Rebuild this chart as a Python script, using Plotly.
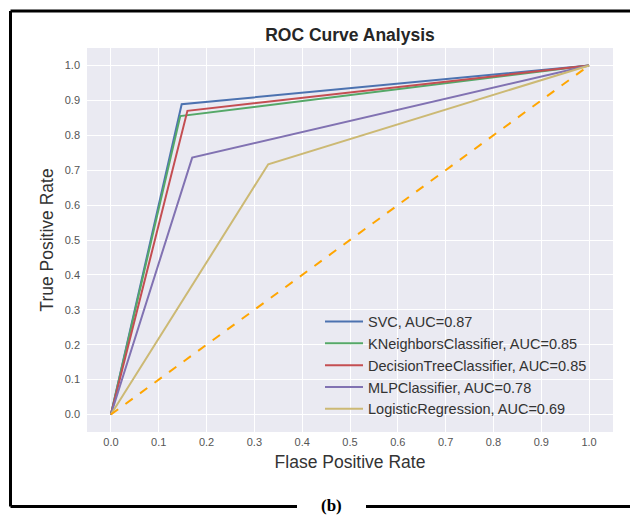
import plotly.graph_objects as go

# ---- data ----
models = ["SVC", "KNeighborsClassifier", "DecisionTreeClassifier", "MLPClassifier", "LogisticRegression"]
auc = [0.87, 0.85, 0.85, 0.78, 0.69]
fpr = [
    [0.0, 0.148, 1.0],
    [0.0, 0.145, 1.0],
    [0.0, 0.160, 1.0],
    [0.0, 0.170, 1.0],
    [0.0, 0.329, 1.0],
]
tpr = [
    [0.0, 0.889, 1.0],
    [0.0, 0.855, 1.0],
    [0.0, 0.870, 1.0],
    [0.0, 0.736, 1.0],
    [0.0, 0.717, 1.0],
]
diag = [0.0, 1.0]
tick_vals = [i / 10 for i in range(11)]
tick_text = ["%.1f" % v for v in tick_vals]

colors = ["#4C72B0", "#55A868", "#C44E52", "#8172B2", "#CCB974"]

OFF = 8  # browser default body margin
W, H = 638 - OFF, 515 - OFF
L, R, T, B = 87 - OFF, 25, 48 - OFF, 83
PW, PH = W - L - R, H - T - B

def px(x):
    return (x - OFF - L) / PW

def py(y):
    return (H - B - (y - OFF)) / PH

fig = go.Figure()
for i, m in enumerate(models):
    fig.add_trace(go.Scatter(
        x=fpr[i], y=tpr[i], mode="lines",
        name="%s, AUC=%.2f" % (m, auc[i]),
        line=dict(color=colors[i], width=2),
    ))
fig.add_trace(go.Scatter(
    x=diag, y=diag, mode="lines", showlegend=False,
    line=dict(color="#FFA500", width=2, dash="dash"),
))

axis_common = dict(
    range=[-0.05, 1.05], tickvals=tick_vals, ticktext=tick_text,
    showgrid=True, gridcolor="white", gridwidth=1.3, zeroline=False,
    showline=False, ticks="", tickfont=dict(family="Liberation Sans, Arial", size=11, color="#555555"),
)

fig.update_layout(
    width=W, height=H,
    margin=dict(l=L, r=R, t=T, b=B),
    paper_bgcolor="white", plot_bgcolor="#EAEAF2",
    font=dict(family="Liberation Sans, Arial", color="#333333"),
    title=dict(text="<b>ROC Curve Analysis</b>", x=(350 - OFF) / W, xanchor="center",
               y=1 - (35 - OFF) / H, yanchor="middle", font=dict(size=17.5, color="#262626")),
    xaxis=dict(**axis_common, title=dict(text="Flase Positive Rate", font=dict(size=17.5, color="#333333"), standoff=8),
               ticklabelstandoff=2),
    yaxis=dict(**axis_common, title=dict(text="True Positive Rate", font=dict(size=17.5, color="#333333"), standoff=6),
               ticklabelstandoff=6),
    legend=dict(x=px(320), y=py(425.5), xanchor="left", yanchor="bottom",
                bgcolor="rgba(0,0,0,0)", font=dict(size=14.5, color="#333333"),
                tracegroupgap=0, itemwidth=38),
    showlegend=True,
)

# frame
lw = 3
shapes = [
    dict(type="line", xref="paper", yref="paper", x0=px(10.5), x1=px(10.5), y0=py(11), y1=py(506.5)),
    dict(type="line", xref="paper", yref="paper", x0=px(10.5), x1=px(640), y0=py(11), y1=py(11)),
    dict(type="line", xref="paper", yref="paper", x0=px(10.5), x1=px(297), y0=py(506.5), y1=py(506.5)),
    dict(type="line", xref="paper", yref="paper", x0=px(366), x1=px(640), y0=py(506.5), y1=py(506.5)),
]
for s in shapes:
    s["line"] = dict(color="black", width=lw)
fig.update_layout(shapes=shapes)

fig.add_annotation(text="<b>(b)</b>", xref="paper", yref="paper", x=px(331), y=py(505),
                   xanchor="center", yanchor="middle", showarrow=False,
                   font=dict(family="Liberation Serif, Times New Roman", size=17, color="black"))

fig.write_html("out.html")
